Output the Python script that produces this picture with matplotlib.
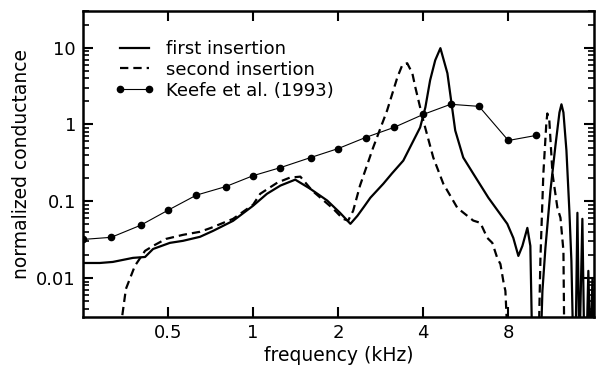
import numpy as np
import matplotlib
matplotlib.use("Agg")
import matplotlib.pyplot as plt
from matplotlib.ticker import FixedLocator, FixedFormatter, LogLocator, NullLocator, NullFormatter

plt.rcParams['font.family'] = ['DejaVu Sans']
plt.rcParams['lines.scale_dashes'] = False

# first insertion (solid)
f1 = [0.25, 0.287, 0.319, 0.376, 0.415, 0.443, 0.508, 0.565, 0.649, 0.722, 0.85,
      1.0, 1.12, 1.25, 1.41, 1.59, 1.83, 2.03, 2.21, 2.34, 2.47, 2.6, 2.89, 3.1, 3.4, 3.9,
      4.07, 4.23, 4.41, 4.6, 4.87, 5.19, 5.54, 6.01, 6.8, 7.93, 8.33, 8.68, 8.97, 9.34, 9.57, 9.73,
      10.39, 10.56, 10.82, 11.27, 11.74, 12.13, 12.33, 12.53, 12.84, 13.15, 13.37,
      13.59, 13.82, 14.04, 14.27, 14.62, 14.86, 15.1, 15.35, 15.61, 15.87, 16.1]
g1 = [0.0157, 0.0157, 0.0162, 0.0183, 0.0188, 0.0239, 0.0287, 0.0305, 0.0344, 0.0411, 0.0556,
      0.0873, 0.125, 0.16, 0.191, 0.146, 0.102, 0.0708, 0.0508, 0.0646, 0.085, 0.111, 0.169, 0.23, 0.338, 0.914,
      1.67, 3.76, 6.86, 9.85, 4.64, 0.835, 0.371, 0.229, 0.111, 0.0508, 0.0333, 0.0194, 0.0262, 0.045, 0.0262, 0.001,
      0.001, 0.0068, 0.0247, 0.137, 0.531, 1.43, 1.83, 1.43, 0.457, 0.075, 0.0167,
      0.001, 0.001, 0.0707, 0.001, 0.059, 0.001, 0.001, 0.0124, 0.001, 0.01, 0.001]

# second insertion (dashed)
f2 = [0.33, 0.355, 0.382, 0.415, 0.443, 0.492, 0.565, 0.649, 0.71, 0.85, 1.0,
      1.06, 1.22, 1.35, 1.47, 1.62, 1.92, 2.08, 2.17, 2.26, 2.39, 2.66, 2.98, 3.24, 3.37,
      3.51, 3.66, 3.75, 4.0, 4.34, 4.71, 5.28, 6.01, 6.37, 6.74, 7.02, 7.31, 7.5, 7.68,
      7.81, 8.0, 10.22, 10.39, 10.64, 10.9, 10.99, 11.17, 11.46, 11.93, 12.23,
      12.53, 12.63, 16.1]
g2 = [0.001, 0.0072, 0.0144, 0.0226, 0.0262, 0.0323, 0.0365, 0.04, 0.045, 0.059, 0.09,
      0.125, 0.175, 0.203, 0.209, 0.137, 0.08, 0.059, 0.056, 0.075, 0.16, 0.5, 1.52, 4.11, 5.9,
      6.27, 4.64, 3.05, 1.13, 0.371, 0.169, 0.082, 0.056, 0.0523, 0.0333, 0.0287, 0.0182, 0.0152, 0.0091,
      0.0068, 0.001, 0.001, 0.0183, 0.229, 1.03, 1.39, 1.13, 0.229, 0.082, 0.061,
      0.0226, 0.001, 0.001]

# Keefe et al. (1993), 1/3-octave points
f_keefe = [0.25, 0.315, 0.4, 0.5, 0.63, 0.8, 1.0, 1.25, 1.6, 2.0, 2.5, 3.15, 4.0, 5.0, 6.3, 8.0, 10.0]
g_keefe = [0.0318, 0.0339, 0.0486, 0.0763, 0.12, 0.155, 0.215, 0.274, 0.371, 0.485,
           0.676, 0.914, 1.35, 1.83, 1.72, 0.618, 0.718]

xticks = [0.5, 1, 2, 4, 8]
xtick_labels = ['0.5', '1', '2', '4', '8']
yticks = [0.01, 0.1, 1, 10]
ytick_labels = ['0.01', '0.1', '1', '10']

fig = plt.figure(figsize=(5.96, 3.67), dpi=100)
ax = fig.add_axes([0.139, 0.136, 0.858, 0.834])

ax.plot(f1, g1, color='black', lw=1.6, label='first insertion')
ax.plot(f2, g2, color='black', lw=1.6, dashes=(6, 3.6), label='second insertion')
ax.plot(f_keefe, g_keefe, color='black', lw=0.8, marker='o', ms=4.5,
        label='Keefe et al. (1993)')

ax.set_xscale('log')
ax.set_yscale('log')
ax.set_xlim(0.25, 16.1)
ax.set_ylim(0.0031, 30)

ax.xaxis.set_major_locator(FixedLocator(xticks))
ax.xaxis.set_major_formatter(FixedFormatter(xtick_labels))
ax.xaxis.set_minor_locator(NullLocator())
ax.xaxis.set_minor_formatter(NullFormatter())
ax.yaxis.set_major_locator(FixedLocator(yticks))
ax.yaxis.set_major_formatter(FixedFormatter(ytick_labels))
ax.yaxis.set_minor_locator(LogLocator(base=10, subs=np.arange(2, 10)))
ax.yaxis.set_minor_formatter(NullFormatter())

ax.tick_params(which='both', direction='in', top=True, right=True, labelsize=13, color='black')
ax.tick_params(which='major', length=7, width=1.5, pad=5)
ax.tick_params(which='minor', length=4, width=1.2)
for s in ax.spines.values():
    s.set_linewidth(1.8)

ax.set_xlabel('frequency (kHz)', fontsize=13.5, labelpad=3)
ax.set_ylabel('normalized conductance', fontsize=13.5, labelpad=4)

leg = ax.legend(loc='upper left', bbox_to_anchor=(0.063, 0.905), frameon=False, fontsize=13,
                handlelength=2.2, handletextpad=0.6, labelspacing=0.15, numpoints=2,
                borderaxespad=0, borderpad=0)

fig.savefig('out.png', dpi=100)
